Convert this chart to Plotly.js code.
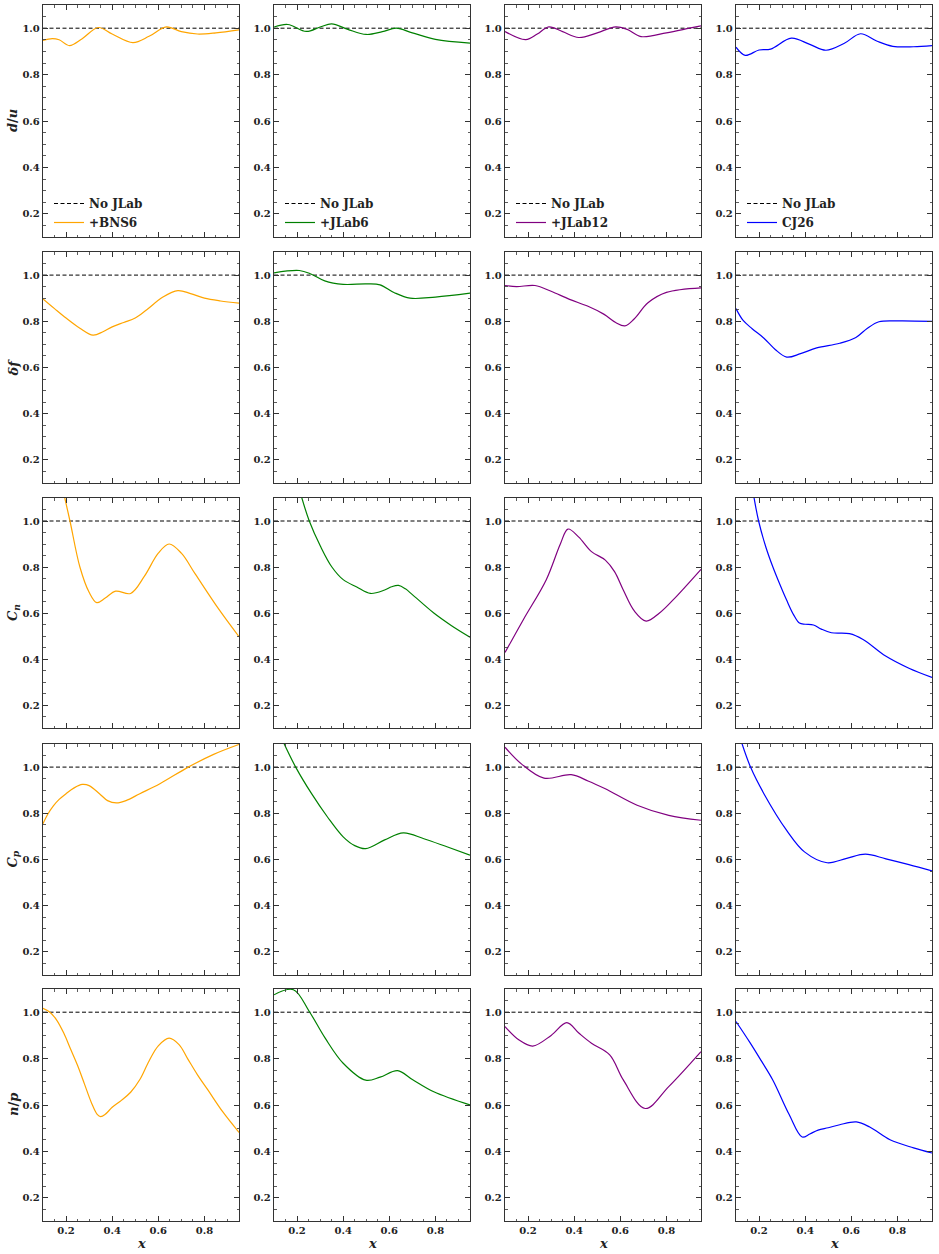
<!DOCTYPE html>
<html>
<head>
<meta charset="utf-8">
<script src="https://cdn.plot.ly/plotly-3.0.1.min.js"></script>
<style>html,body{margin:0;padding:0;background:#fff;}</style>
</head>
<body>
<div id="chart" style="width:939px;height:1254px;"></div>
<script>
// ---- labels ----
const rowLabels = ['<i>d</i>/<i>u</i>', '<i>δf</i>', '<i>C<sub>n</sub></i>', '<i>C<sub>p</sub></i>', '<i>n</i>/<i>p</i>'];
const seriesNames = ['+BNS6', '+JLab6', '+JLab12', 'CJ26'];
const seriesColors = ['#FFA500', '#008000', '#800080', '#0000FF'];
const refName = 'No JLab';
const refX = [0.1, 0.95];
const refY = [1.0, 1.0];
const xTickVals = [0.2, 0.4, 0.6, 0.8];
const yTickVals = [0.2, 0.4, 0.6, 0.8, 1.0];

// ---- row 1: d/u ----
const du_BNS6_x = [0.10,0.14,0.17,0.215,0.27,0.34,0.40,0.49,0.56,0.635,0.70,0.77,0.85,0.95];
const du_BNS6_y = [0.947,0.955,0.95,0.925,0.955,1.003,0.975,0.938,0.965,1.006,0.985,0.975,0.98,0.993];
const du_JLab6_x = [0.10,0.16,0.24,0.30,0.35,0.42,0.50,0.57,0.63,0.70,0.80,0.95];
const du_JLab6_y = [1.005,1.016,0.986,1.005,1.019,0.995,0.973,0.985,1.0,0.98,0.952,0.936];
const du_JLab12_x = [0.10,0.19,0.24,0.29,0.35,0.42,0.50,0.58,0.63,0.69,0.80,0.90,0.95];
const du_JLab12_y = [0.986,0.951,0.975,1.006,0.985,0.96,0.98,1.006,0.995,0.964,0.98,1.0,1.01];
const du_CJ26_x = [0.10,0.14,0.20,0.25,0.34,0.42,0.49,0.57,0.64,0.71,0.78,0.87,0.95];
const du_CJ26_y = [0.918,0.883,0.906,0.91,0.957,0.93,0.905,0.935,0.976,0.945,0.922,0.92,0.925];

// ---- row 2: delta f ----
const df_BNS6_x = [0.10,0.15,0.2,0.26,0.317,0.36,0.4,0.45,0.5,0.55,0.62,0.685,0.74,0.8,0.87,0.95];
const df_BNS6_y = [0.897,0.855,0.814,0.77,0.74,0.755,0.776,0.795,0.814,0.85,0.905,0.933,0.92,0.9,0.888,0.879];
const df_JLab6_x = [0.10,0.21,0.26,0.32,0.40,0.50,0.56,0.62,0.69,0.80,0.95];
const df_JLab6_y = [1.01,1.02,1.005,0.975,0.96,0.962,0.958,0.925,0.9,0.905,0.922];
const df_JLab12_x = [0.10,0.15,0.23,0.30,0.38,0.46,0.53,0.58,0.62,0.66,0.72,0.80,0.95];
const df_JLab12_y = [0.955,0.95,0.955,0.93,0.895,0.865,0.83,0.795,0.78,0.81,0.88,0.925,0.945];
const df_CJ26_x = [0.10,0.13,0.17,0.22,0.27,0.32,0.38,0.45,0.55,0.62,0.67,0.72,0.80,0.95];
const df_CJ26_y = [0.855,0.805,0.768,0.728,0.678,0.645,0.66,0.685,0.705,0.73,0.77,0.798,0.802,0.8];

// ---- row 3: C_n ----
const cn_BNS6_x = [0.19,0.217,0.26,0.30,0.333,0.37,0.415,0.48,0.54,0.60,0.647,0.70,0.76,0.86,0.95];
const cn_BNS6_y = [1.12,1.0,0.8,0.69,0.645,0.665,0.695,0.685,0.76,0.86,0.9,0.86,0.77,0.62,0.497];
const cn_JLab6_x = [0.215,0.253,0.302,0.351,0.40,0.459,0.518,0.58,0.61,0.64,0.67,0.70,0.793,0.87,0.95];
const cn_JLab6_y = [1.12,1.0,0.889,0.8,0.745,0.713,0.685,0.70,0.714,0.72,0.705,0.68,0.6,0.545,0.495];
const cn_JLab12_x = [0.10,0.18,0.279,0.34,0.373,0.42,0.475,0.535,0.575,0.613,0.66,0.712,0.77,0.83,0.95];
const cn_JLab12_y = [0.428,0.572,0.745,0.9,0.965,0.93,0.867,0.83,0.78,0.70,0.61,0.565,0.6,0.658,0.79];
const cn_CJ26_x = [0.175,0.198,0.23,0.26,0.29,0.32,0.35,0.375,0.40,0.436,0.47,0.514,0.592,0.651,0.749,0.85,0.95];
const cn_CJ26_y = [1.12,1.0,0.885,0.80,0.725,0.655,0.592,0.556,0.551,0.548,0.53,0.514,0.51,0.485,0.413,0.36,0.32];

// ---- row 4: C_p ----
const cp_BNS6_x = [0.10,0.12,0.145,0.17,0.2,0.235,0.27,0.30,0.345,0.38,0.418,0.46,0.52,0.607,0.73,0.84,0.95];
const cp_BNS6_y = [0.755,0.795,0.832,0.86,0.885,0.91,0.925,0.92,0.885,0.855,0.845,0.855,0.885,0.928,1.0,1.055,1.098];
const cp_JLab6_x = [0.135,0.194,0.263,0.332,0.40,0.45,0.498,0.58,0.661,0.75,0.85,0.95];
const cp_JLab6_y = [1.12,1.0,0.885,0.784,0.698,0.66,0.647,0.685,0.715,0.69,0.655,0.619];
const cp_JLab12_x = [0.10,0.171,0.269,0.387,0.46,0.535,0.673,0.81,0.95];
const cp_JLab12_y = [1.086,1.014,0.952,0.967,0.94,0.906,0.835,0.791,0.77];
const cp_CJ26_x = [0.12,0.163,0.221,0.319,0.397,0.495,0.58,0.661,0.75,0.85,0.95];
const cp_CJ26_y = [1.12,1.0,0.885,0.727,0.633,0.586,0.605,0.623,0.603,0.578,0.551];

// ---- row 5: n/p ----
const np_BNS6_x = [0.10,0.13,0.16,0.19,0.22,0.25,0.28,0.31,0.335,0.35,0.37,0.40,0.44,0.48,0.52,0.56,0.60,0.647,0.69,0.727,0.77,0.815,0.88,0.95];
const np_BNS6_y = [1.017,1.0,0.965,0.91,0.84,0.77,0.69,0.61,0.56,0.55,0.56,0.59,0.62,0.655,0.71,0.79,0.855,0.888,0.86,0.80,0.73,0.665,0.57,0.482];
const np_JLab6_x = [0.10,0.184,0.253,0.322,0.40,0.498,0.56,0.636,0.70,0.793,0.95];
const np_JLab6_y = [1.075,1.097,1.003,0.888,0.78,0.707,0.72,0.748,0.71,0.657,0.6];
const np_JLab12_x = [0.10,0.161,0.22,0.30,0.368,0.42,0.475,0.554,0.613,0.708,0.81,0.95];
const np_JLab12_y = [0.938,0.88,0.854,0.9,0.955,0.91,0.866,0.816,0.708,0.585,0.679,0.83];
const np_CJ26_x = [0.10,0.16,0.21,0.26,0.33,0.387,0.42,0.456,0.50,0.55,0.622,0.68,0.768,0.87,0.95];
const np_CJ26_y = [0.96,0.87,0.79,0.707,0.56,0.462,0.475,0.492,0.502,0.515,0.527,0.505,0.45,0.415,0.393];

const curves = [
  [[du_BNS6_x,du_BNS6_y],[du_JLab6_x,du_JLab6_y],[du_JLab12_x,du_JLab12_y],[du_CJ26_x,du_CJ26_y]],
  [[df_BNS6_x,df_BNS6_y],[df_JLab6_x,df_JLab6_y],[df_JLab12_x,df_JLab12_y],[df_CJ26_x,df_CJ26_y]],
  [[cn_BNS6_x,cn_BNS6_y],[cn_JLab6_x,cn_JLab6_y],[cn_JLab12_x,cn_JLab12_y],[cn_CJ26_x,cn_CJ26_y]],
  [[cp_BNS6_x,cp_BNS6_y],[cp_JLab6_x,cp_JLab6_y],[cp_JLab12_x,cp_JLab12_y],[cp_CJ26_x,cp_CJ26_y]],
  [[np_BNS6_x,np_BNS6_y],[np_JLab6_x,np_JLab6_y],[np_JLab12_x,np_JLab12_y],[np_CJ26_x,np_CJ26_y]]
];

// ---- layout geometry (pixels) ----
const W = 939, H = 1254;
const colPx = [[43,239],[274,470],[505,701],[736,932]];
const rowPx = [[5,237],[252,483],[498,728],[744,975],[989,1221]];
const FONT = 'DejaVu Serif';
const axisColor = '#333333';

const data = [];
const layout = {
  width: W, height: H,
  margin: {l:0, r:0, t:0, b:0},
  paper_bgcolor: '#ffffff', plot_bgcolor: '#ffffff',
  font: {family: FONT, size: 10, color: '#222', weight: 'bold'},
  annotations: [],
  showlegend: true
};

for (let r = 0; r < 5; r++) {
  for (let c = 0; c < 4; c++) {
    const i = r*4 + c + 1;
    const xa = 'x' + (i===1?'':i), ya = 'y' + (i===1?'':i);
    const legendId = r === 0 ? (c===0 ? 'legend' : 'legend' + (c+1)) : 'legend';
    data.push({
      x: refX, y: refY, xaxis: xa, yaxis: ya, mode: 'lines', name: refName,
      line: {color: '#000', width: 1, dash: '4px,2.5px'},
      showlegend: r === 0, legend: legendId, hoverinfo: 'skip'
    });
    data.push({
      x: curves[r][c][0], y: curves[r][c][1], xaxis: xa, yaxis: ya, mode: 'lines',
      name: seriesNames[c], line: {color: seriesColors[c], width: 1.2, shape: 'spline', smoothing: 1},
      showlegend: r === 0, legend: legendId
    });
    const common = {
      showline: true, linecolor: axisColor, linewidth: 1.2, mirror: 'allticks',
      ticks: 'inside', ticklen: 5, tickwidth: 1, tickcolor: axisColor,
      showgrid: false, zeroline: false, fixedrange: true,
      tickfont: {family: FONT, size: 10, color: '#222', weight: 'bold'},
      minor: {ticks: 'inside', ticklen: 2.5, tickwidth: 0.8, tickcolor: axisColor, dtick: 0.05, showgrid: false}
    };
    layout['xaxis' + (i===1?'':i)] = Object.assign({}, common, {
      domain: [colPx[c][0]/W, colPx[c][1]/W], range: [0.1, 0.95], anchor: ya,
      tickmode: 'array', tickvals: xTickVals, ticktext: xTickVals.map(v => v.toFixed(1)),
      showticklabels: r === 4,
      minor: Object.assign({}, common.minor, {tick0: 0.1})
    });
    layout['yaxis' + (i===1?'':i)] = Object.assign({}, common, {
      domain: [1 - rowPx[r][1]/H, 1 - rowPx[r][0]/H], range: [0.1, 1.1], anchor: xa,
      tickmode: 'array', tickvals: yTickVals, ticktext: yTickVals.map(v => v.toFixed(1)),
      minor: Object.assign({}, common.minor, {tick0: 0.1})
    });
  }
  layout.annotations.push({
    xref: 'paper', yref: 'paper', x: 13/W, y: 1 - (rowPx[r][0]+rowPx[r][1])/2/H,
    text: '<b>' + rowLabels[r] + '</b>', textangle: -90, showarrow: false,
    xanchor: 'center', yanchor: 'middle', font: {family: FONT, size: 13, color: '#222'}
  });
}
for (let c = 0; c < 4; c++) {
  layout.annotations.push({
    xref: 'paper', yref: 'paper', x: (colPx[c][0]+colPx[c][1])/2/W, y: 1 - 1243/H,
    text: '<b><i>x</i></b>', showarrow: false, xanchor: 'center', yanchor: 'middle',
    font: {family: FONT, size: 13, color: '#222'}
  });
  const lk = c === 0 ? 'legend' : 'legend' + (c+1);
  layout[lk] = {
    x: (colPx[c][0] + 6)/W, y: 1 - 189/H, xanchor: 'left', yanchor: 'top',
    bgcolor: 'rgba(0,0,0,0)', borderwidth: 0,
    font: {family: FONT, size: 12, color: '#222', weight: 'bold'},
    tracegroupgap: 0, itemwidth: 30
  };
}

Plotly.newPlot('chart', data, layout, {displayModeBar: false, staticPlot: true});
</script>
</body>
</html>
